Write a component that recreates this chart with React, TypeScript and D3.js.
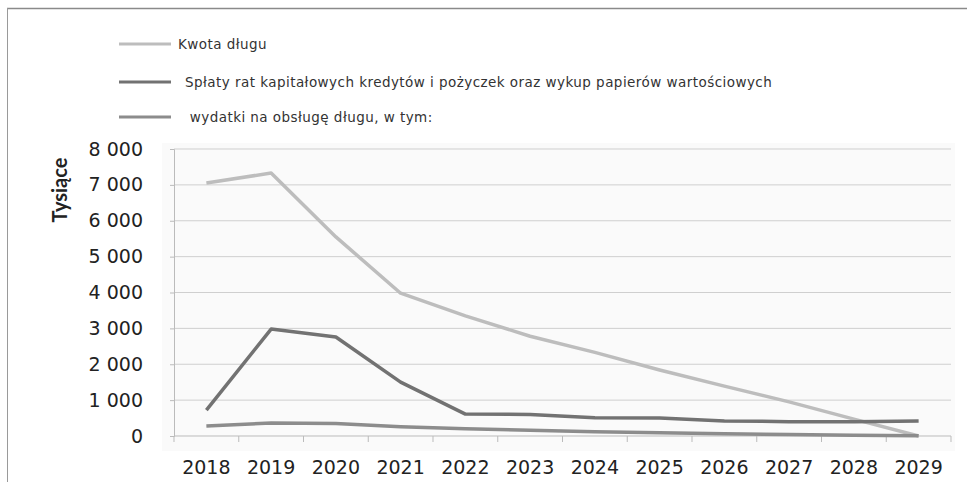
import React, { useRef, useEffect } from 'react';
import * as d3 from 'd3';

const years = ['2018', '2019', '2020', '2021', '2022', '2023', '2024', '2025', '2026', '2027', '2028', '2029'];
const kwotaDlugu = [7050, 7330, 5550, 3980, 3350, 2780, 2330, 1840, 1390, 950, 470, 0];
const splatyRat = [720, 2980, 2760, 1500, 610, 600, 510, 500, 420, 400, 400, 420];
const wydatkiObsluga = [280, 360, 350, 260, 200, 160, 120, 90, 60, 40, 20, 10];
const yTicks = [0, 1000, 2000, 3000, 4000, 5000, 6000, 7000, 8000];

const seriesList = [
  { label: 'Kwota długu', values: kwotaDlugu, color: '#bdbdbd' },
  { label: 'Spłaty rat kapitałowych kredytów i pożyczek oraz wykup papierów wartościowych', values: splatyRat, color: '#727272' },
  { label: ' wydatki na obsługę długu, w tym:', values: wydatkiObsluga, color: '#8c8c8c' },
];

const width = 967;
const height = 489;

const App: React.FC = () => {
  const svgRef = useRef<SVGSVGElement>(null);

  useEffect(() => {
    if (!svgRef.current) return;
    const svg = d3.select(svgRef.current);
    svg.selectAll('*').remove();

    const plot = { left: 174, right: 951, top: 149, bottom: 436 };

    const x = d3.scaleBand().domain(years).range([plot.left, plot.right]);
    const y = d3.scaleLinear().domain([0, 8000]).range([plot.bottom, plot.top]);

    // page frame
    svg.append('rect').attr('width', width).attr('height', height).attr('fill', '#ffffff');
    svg.append('line')
      .attr('x1', 7).attr('x2', width).attr('y1', 8.5).attr('y2', 8.5)
      .attr('stroke', '#8a8a8a').attr('stroke-width', 1.5);
    svg.append('line')
      .attr('x1', 7.5).attr('x2', 7.5).attr('y1', 8).attr('y2', 482)
      .attr('stroke', '#9a9a9a').attr('stroke-width', 1);

    // plot background
    svg.append('rect')
      .attr('x', 162).attr('y', 143)
      .attr('width', 793).attr('height', 308)
      .attr('fill', '#fafafa');

    // gridlines
    svg.append('g')
      .selectAll('line')
      .data(yTicks.filter(t => t > 0))
      .enter()
      .append('line')
      .attr('x1', plot.left).attr('x2', plot.right)
      .attr('y1', d => y(d)).attr('y2', d => y(d))
      .attr('stroke', '#cfcfcf').attr('stroke-width', 1);

    // y axis
    const yAxis = d3.axisLeft(y).tickValues(yTicks).tickSize(4)
      .tickFormat(d => d3.format(',')(d as number).replace(/,/g, ' '));
    const yg = svg.append('g').attr('transform', `translate(${plot.left},0)`).call(yAxis);
    yg.select('.domain').attr('stroke', '#bbbbbb');
    yg.selectAll('.tick line').attr('stroke', '#bbbbbb');
    yg.selectAll('.tick text')
      .attr('x', -31)
      .style('font-family', '"DejaVu Sans", sans-serif')
      .style('font-size', '19px')
      .style('fill', '#222');

    // x axis with ticks at category boundaries
    const xg = svg.append('g').attr('transform', `translate(0,${plot.bottom})`);
    xg.append('line')
      .attr('x1', plot.left).attr('x2', plot.right)
      .attr('stroke', '#bbbbbb');
    xg.selectAll('line.bound')
      .data([...years.map(d => x(d) as number), plot.right])
      .enter()
      .append('line')
      .attr('class', 'bound')
      .attr('x1', d => d).attr('x2', d => d)
      .attr('y1', 0).attr('y2', 6)
      .attr('stroke', '#bbbbbb');
    xg.selectAll('text')
      .data(years)
      .enter()
      .append('text')
      .attr('x', d => (x(d) as number) + x.bandwidth() / 2)
      .attr('y', 38)
      .attr('text-anchor', 'middle')
      .style('font-family', '"DejaVu Sans", sans-serif')
      .style('font-size', '19px')
      .style('fill', '#222')
      .text(d => d);

    // axis title
    svg.append('text')
      .attr('transform', `translate(67,190) rotate(-90)`)
      .attr('text-anchor', 'middle')
      .style('font-family', 'Lato, sans-serif')
      .style('font-weight', 'bold')
      .style('font-size', '20px')
      .style('fill', '#222')
      .text('Tysiące');

    // series lines
    const line = d3.line<number>()
      .x((_, i) => (x(years[i]) as number) + x.bandwidth() / 2)
      .y(d => y(d));

    seriesList.forEach(s => {
      svg.append('path')
        .datum(s.values)
        .attr('d', line)
        .attr('fill', 'none')
        .attr('stroke', s.color)
        .attr('stroke-width', 3.5)
        .attr('stroke-linejoin', 'round');
    });

    // legend
    const legendY = [44, 82, 117];
    seriesList.forEach((s, i) => {
      const g = svg.append('g').attr('transform', `translate(0,${legendY[i]})`);
      g.append('line')
        .attr('x1', 119).attr('x2', 171)
        .attr('stroke', s.color).attr('stroke-width', 3);
      g.append('text')
        .attr('x', i === 0 ? 178 : 185)
        .attr('y', 5)
        .style('font-family', '"DejaVu Sans", sans-serif')
        .style('font-size', '13.5px')
        .style('letter-spacing', '0.45px')
        .style('fill', '#333')
        .style('white-space', 'pre')
        .text(s.label);
    });
  }, []);

  return (
    <svg
      ref={svgRef}
      width={width}
      height={height}
      style={{ position: 'absolute', left: 0, top: 0, display: 'block' }}
    />
  );
};

export default App;
